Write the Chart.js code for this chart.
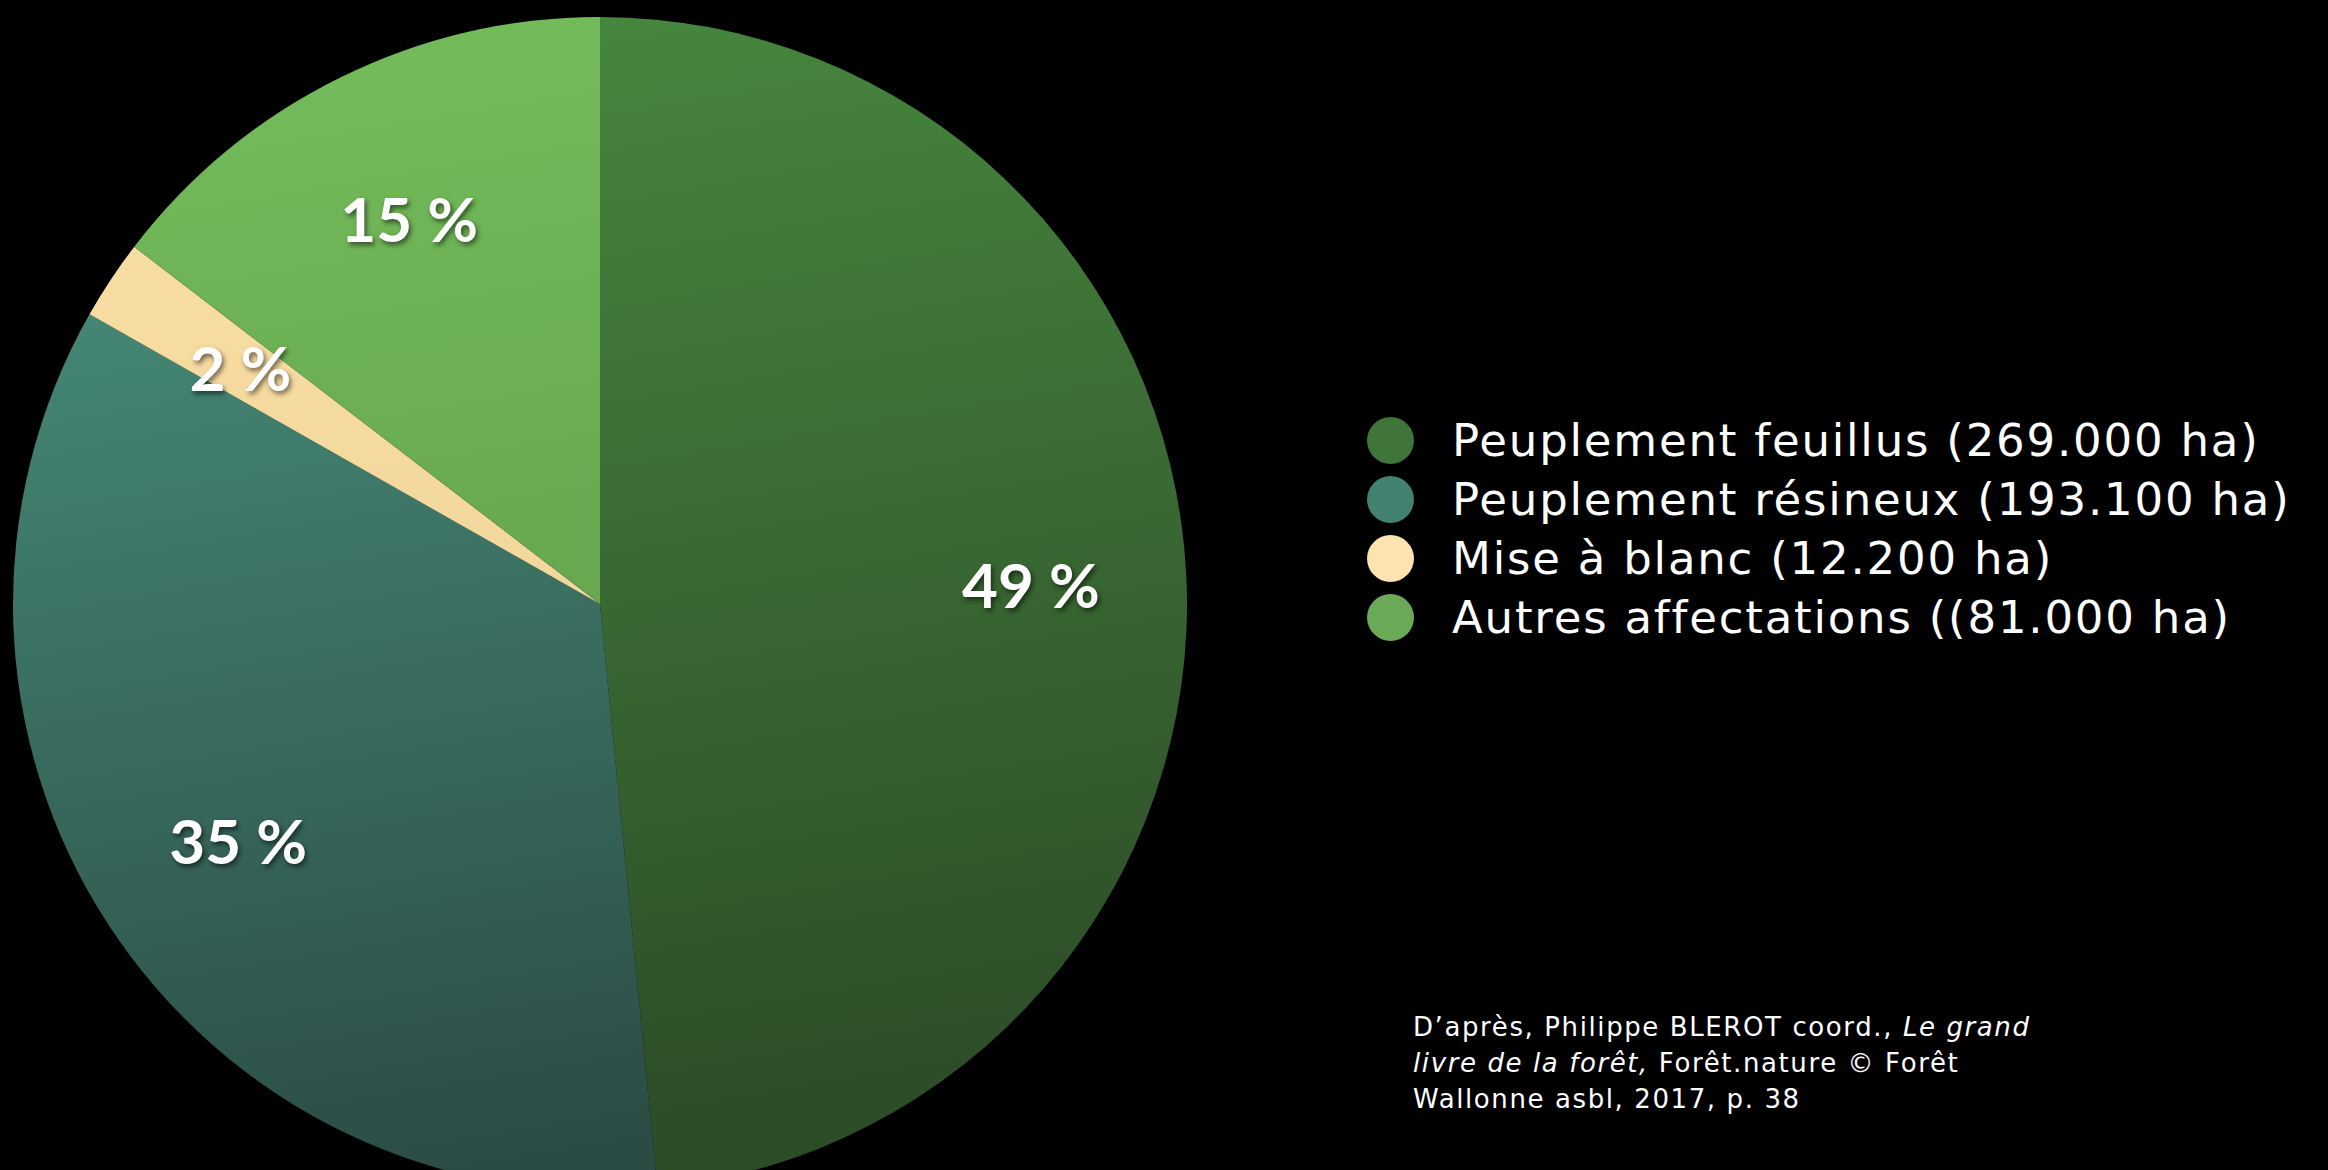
<!DOCTYPE html>
<html lang="fr">
<head>
<meta charset="utf-8">
<script src="https://cdn.jsdelivr.net/npm/chart.js@4.4.1/dist/chart.umd.min.js"></script>
<style>
  html, body { margin: 0; padding: 0; background: #000; width: 2328px; height: 1170px; overflow: hidden; }
  #pieBox { position: absolute; left: 0; top: 0; width: 1200px; height: 1200px; }
  #legend { position: absolute; left: 1367px; top: 411px; font-family: "DejaVu Sans", Verdana, sans-serif; font-size: 45px; letter-spacing: 1.8px; color: #fff; }
  .row { height: 59px; display: flex; align-items: center; white-space: nowrap; }
  .dot { width: 47px; height: 47px; border-radius: 50%; margin-right: 38px; }
  #source { position: absolute; left: 1413px; top: 1009px; font-family: "DejaVu Sans", Verdana, sans-serif; font-size: 26px; letter-spacing: 1.6px; line-height: 36px; color: #fff; white-space: nowrap; }
</style>
</head>
<body>
<div id="pieBox"><canvas id="pieChart"></canvas></div>
<div id="legend"></div>
<div id="source">D’après, Philippe BLEROT coord., <i>Le grand</i><br><i>livre de la forêt,</i> Forêt.nature © Forêt<br>Wallonne asbl, 2017, p. 38</div>

<script>
// données (surfaces en ha)
const categories = [
  'Peuplement feuillus (269.000 ha)',
  'Peuplement résineux (193.100 ha)',
  'Mise à blanc (12.200 ha)',
  'Autres affectations ((81.000 ha)'
];
const surfaces = [269000, 193100, 12200, 81000];
const pctLabels = ['49 %', '35 %', '2 %', '15 %'];

// couleurs : haut / bas du dégradé, et couleur de légende
const topColors = ['#488a3f', '#4c9883', '#fbe0a5', '#74bd5b'];
const bottomColors = ['#2d4c28', '#2b4c45', '#ebcf95', '#5c9446'];
const legendColors = ['#3f7539', '#438170', '#fde3b0', '#6aa957'];

// légende
const legendDiv = document.getElementById('legend');
categories.forEach((c, i) => {
  const row = document.createElement('div');
  row.className = 'row';
  row.innerHTML = `<div class="dot" style="background:${legendColors[i]}"></div><span>${c}</span>`;
  legendDiv.appendChild(row);
});

function sliceGradient(context) {
  const chart = context.chart;
  const area = chart.chartArea;
  if (!area) return topColors[context.dataIndex];
  const g = chart.ctx.createLinearGradient(area.left + 150, area.top, area.left + 350, area.bottom);
  g.addColorStop(0, topColors[context.dataIndex]);
  g.addColorStop(1, bottomColors[context.dataIndex]);
  return g;
}

// étiquettes de pourcentage
const pctPlugin = {
  id: 'pctLabels',
  afterDatasetsDraw(chart) {
    const ctx = chart.ctx;
    const meta = chart.getDatasetMeta(0);
    ctx.save();
    ctx.font = 'bold 62px Lato, "Open Sans", sans-serif';
    ctx.fillStyle = '#fff';
    ctx.textAlign = 'center';
    ctx.textBaseline = 'middle';
    ctx.shadowColor = 'rgba(0,0,0,0.55)';
    ctx.shadowBlur = 5;
    ctx.shadowOffsetX = 2;
    ctx.shadowOffsetY = 3;
    meta.data.forEach((arc, i) => {
      const p = arc.getProps(['x', 'y', 'startAngle', 'endAngle', 'outerRadius'], true);
      const mid = (p.startAngle + p.endAngle) / 2;
      const r = p.outerRadius * 0.735;
      ctx.fillText(pctLabels[i], p.x + Math.cos(mid) * r, p.y + Math.sin(mid) * r + 5);
    });
    ctx.restore();
  }
};

new Chart(document.getElementById('pieChart'), {
  type: 'pie',
  data: {
    labels: categories,
    datasets: [{
      data: surfaces,
      backgroundColor: sliceGradient,
      borderWidth: 0
    }]
  },
  options: {
    responsive: true,
    maintainAspectRatio: false,
    animation: false,
    layout: { padding: { left: 13, right: 13, top: 17, bottom: 9 } },
    plugins: {
      legend: { display: false },
      tooltip: { enabled: false }
    }
  },
  plugins: [pctPlugin]
});
</script>
</body>
</html>
